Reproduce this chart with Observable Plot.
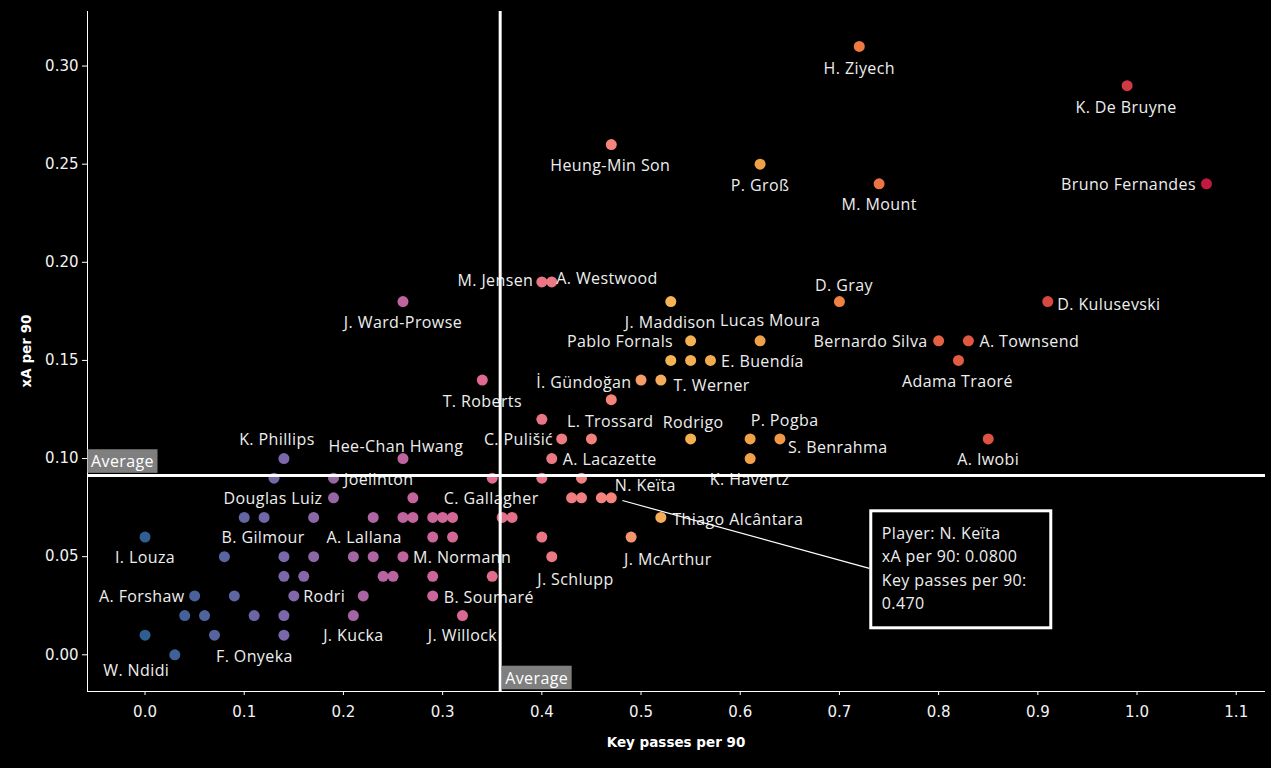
<!DOCTYPE html>
<html><head><meta charset="utf-8">
<script src="https://cdn.jsdelivr.net/npm/d3@7"></script>
<script src="https://cdn.jsdelivr.net/npm/@observablehq/plot@0.6"></script>
<style>
html,body{margin:0;padding:0;background:#000;}
#chart{width:1271px;height:768px;}
</style></head><body><div id="chart"></div>
<script>
// ---- data ----
const names = [
  "H. Ziyech","K. De Bruyne","Heung-Min Son","P. Groß","M. Mount","Bruno Fernandes",
  "M. Jensen","A. Westwood","J. Ward-Prowse","J. Maddison","D. Gray","D. Kulusevski",
  "Pablo Fornals","Lucas Moura","Bernardo Silva","A. Townsend","","","E. Buendía","Adama Traoré",
  "T. Roberts","İ. Gündoğan","T. Werner","L. Trossard","",
  "C. Pulišić","","Rodrigo","P. Pogba","S. Benrahma","A. Iwobi",
  "K. Phillips","Hee-Chan Hwang","A. Lacazette","K. Havertz",
  "","Joelinton","C. Gallagher","","",
  "Douglas Luiz","","","","","N. Keïta",
  "","B. Gilmour","","A. Lallana","","","","","","","","Thiago Alcântara",
  "I. Louza","","","","J. McArthur",
  "","","","","","M. Normann","J. Schlupp",
  "","","","","","",
  "A. Forshaw","","Rodri","","B. Soumaré",
  "","","","","J. Kucka","J. Willock",
  "","F. Onyeka","",
  "W. Ndidi"
];
const keyPasses = [
  0.72,0.99,0.47,0.62,0.74,1.07,
  0.40,0.41,0.26,0.53,0.70,0.91,
  0.55,0.62,0.80,0.83,0.53,0.55,0.57,0.82,
  0.34,0.50,0.52,0.47,0.40,
  0.42,0.45,0.55,0.61,0.64,0.85,
  0.14,0.26,0.41,0.61,
  0.13,0.19,0.35,0.40,0.44,
  0.19,0.27,0.43,0.44,0.46,0.47,
  0.10,0.12,0.17,0.23,0.26,0.27,0.29,0.30,0.31,0.36,0.37,0.52,
  0.00,0.29,0.31,0.40,0.49,
  0.08,0.14,0.17,0.21,0.23,0.26,0.41,
  0.14,0.16,0.24,0.25,0.29,0.35,
  0.05,0.09,0.15,0.22,0.29,
  0.04,0.06,0.11,0.14,0.21,0.32,
  0.00,0.07,0.14,
  0.03
];
const xAPer90 = [
  0.31,0.29,0.26,0.25,0.24,0.24,
  0.19,0.19,0.18,0.18,0.18,0.18,
  0.16,0.16,0.16,0.16,0.15,0.15,0.15,0.15,
  0.14,0.14,0.14,0.13,0.12,
  0.11,0.11,0.11,0.11,0.11,0.11,
  0.10,0.10,0.10,0.10,
  0.09,0.09,0.09,0.09,0.09,
  0.08,0.08,0.08,0.08,0.08,0.08,
  0.07,0.07,0.07,0.07,0.07,0.07,0.07,0.07,0.07,0.07,0.07,0.07,
  0.06,0.06,0.06,0.06,0.06,
  0.05,0.05,0.05,0.05,0.05,0.05,0.05,
  0.04,0.04,0.04,0.04,0.04,0.04,
  0.03,0.03,0.03,0.03,0.03,
  0.02,0.02,0.02,0.02,0.02,0.02,
  0.01,0.01,0.01,
  0.00
];
const xTicks = [0,0.1,0.2,0.3,0.4,0.5,0.6,0.7,0.8,0.9,1.0,1.1];
const yTicks = [0,0.05,0.10,0.15,0.20,0.25,0.30];
const averageKeyPasses = 0.358;
const averageXA = 0.0914;
const highlightedPlayer = "N. Keïta";
const xTitle = "Key passes per 90";
const yTitle = "xA per 90";
const averageText = "Average";
// colour ramp (key passes -> colour)
const colorStops = [0, 0.14, 0.26, 0.34, 0.47, 0.53, 0.62, 0.72, 0.85, 0.99, 1.07];
const colorRange = ["#2f5f92","#7a68aa","#c064a0","#e06a8f","#f5857a","#f6b455","#f0a048","#ee7a42","#de5242","#cf3a45","#c31a40"];

// ---- label placement (layout only): [dx, dy, anchor] ----
const labelPlacement = {
  "H. Ziyech":[0,22,"middle"], "K. De Bruyne":[-1,22,"middle"], "Heung-Min Son":[-1,21.5,"middle"],
  "P. Groß":[0,21.5,"middle"], "M. Mount":[0,21.5,"middle"], "Bruno Fernandes":[-10.5,1,"end"],
  "M. Jensen":[-8.5,-1,"end"], "A. Westwood":[4.5,-3,"start"], "J. Ward-Prowse":[0,21.5,"middle"],
  "J. Maddison":[-0.5,21,"middle"], "D. Gray":[4.5,-15.5,"middle"], "D. Kulusevski":[9.5,3.5,"start"],
  "Pablo Fornals":[-17.5,1,"end"], "Lucas Moura":[-40,-20,"start"], "Bernardo Silva":[-11,1,"end"],
  "A. Townsend":[11,1,"start"], "E. Buendía":[10.5,1,"start"], "Adama Traoré":[-1,21.5,"middle"],
  "T. Roberts":[0,22,"middle"], "İ. Gündoğan":[-9.5,2.5,"end"], "T. Werner":[12.5,5.5,"start"],
  "L. Trossard":[-1,22,"middle"], "C. Pulišić":[-8.5,1,"end"], "Rodrigo":[2.5,-16.5,"middle"],
  "P. Pogba":[0.5,-18,"start"], "S. Benrahma":[8,8.5,"start"], "A. Iwobi":[0,21,"middle"],
  "K. Phillips":[-7,-19,"middle"], "Hee-Chan Hwang":[-7,-12,"middle"], "A. Lacazette":[11,1,"start"],
  "K. Havertz":[-0.5,21.5,"middle"], "Joelinton":[10.5,1.5,"start"], "Douglas Luiz":[-11,1.5,"end"],
  "C. Gallagher":[-1,21,"middle"], "N. Keïta":[3.5,-11.5,"start"], "Thiago Alcântara":[11.5,2,"start"],
  "B. Gilmour":[-1,20.5,"middle"], "I. Louza":[0,21,"middle"], "A. Lallana":[-9,20.5,"middle"],
  "M. Normann":[10,1,"start"], "J. McArthur":[-7,22.5,"start"], "J. Schlupp":[-14.5,23.5,"start"],
  "A. Forshaw":[-10,1,"end"], "Rodri":[9.5,1,"start"], "B. Soumaré":[11,1.5,"start"],
  "J. Willock":[0,20.5,"middle"], "J. Kucka":[0,20.5,"middle"], "F. Onyeka":[1.5,22,"start"],
  "W. Ndidi":[-5.5,16.5,"end"]
};

const data = names.map((name, i) => ({name, kp: keyPasses[i], xa: xAPer90[i]}));
const xDomain = [-0.058, 1.1295];
const yDomain = [-0.0187, 0.3278];
const labelFont = "'Open Sans', 'Noto Sans', sans-serif";
const labelNames = new Set(Object.keys(labelPlacement));

const labelMarks = data.filter(d => d.name && labelPlacement[d.name]).map(d => {
  const [dx, dy, anchor] = labelPlacement[d.name];
  return Plot.text([d], {x: "kp", y: "xa", text: "name", dx, dy, textAnchor: anchor,
    fill: "#eeeeee", fontSize: 16, fontFamily: labelFont});
});

const marginLeft = 87, marginTop = 11, marginRight = 6, marginBottom = 77;
const W = 1271, H = 768;

const chart = Plot.plot({
  width: W, height: H,
  marginLeft, marginTop, marginRight, marginBottom,
  style: {background: "#000", color: "#fff", fontFamily: "'DejaVu Sans', sans-serif", fontSize: "15px"},
  x: {domain: xDomain},
  y: {domain: yDomain},
  color: {type: "linear", domain: colorStops, range: colorRange},
  marks: [
    Plot.ruleX([xDomain[0]], {stroke: "#fff", strokeWidth: 1}),
    Plot.ruleY([yDomain[0]], {stroke: "#fff", strokeWidth: 1}),
    Plot.axisX({ticks: xTicks, tickFormat: ".1f", tickSize: 4, tickPadding: 11, label: null,
      fontSize: 15, fill: "#f2f2f2", stroke: "#fff"}),
    Plot.axisY({ticks: yTicks, tickFormat: ".2f", tickSize: 5, tickPadding: 4, label: null,
      fontSize: 15, fill: "#f2f2f2", stroke: "#fff"}),
    Plot.dot(data, {x: "kp", y: "xa", r: 5.5, fill: "kp"}),
    ...labelMarks,
    Plot.ruleX([averageKeyPasses], {stroke: "#fff", strokeWidth: 3}),
    Plot.ruleY([averageXA], {stroke: "#fff", strokeWidth: 3}),
    Plot.text([averageXA], {y: d => d, text: () => averageText, frameAnchor: "left", dx: 3.5, dy: -13.5,
      textAnchor: "start", fill: "#fff", fontSize: 16, fontFamily: labelFont}),
    Plot.text([averageKeyPasses], {x: d => d, text: () => averageText, frameAnchor: "bottom", dx: 5, dy: -8,
      textAnchor: "start", fill: "#fff", fontSize: 16, fontFamily: labelFont})
  ]
});
document.getElementById("chart").append(chart);

const svg = d3.select(chart);
svg.selectAll("text").filter(function() { return labelNames.has(this.textContent); })
  .style("letter-spacing", "0.4px");
svg.selectAll("text").filter(function() { return this.textContent === averageText; })
  .style("letter-spacing", "0.4px")
  .each(function() {
    const b = this.getBBox();
    const r = document.createElementNS("http://www.w3.org/2000/svg", "rect");
    r.setAttribute("x", b.x - 3.5);
    r.setAttribute("y", b.y + b.height / 2 - 11.8);
    r.setAttribute("width", b.width + 7);
    r.setAttribute("height", 23.6);
    r.setAttribute("fill", "#7f7f7f");
    const tr = this.getAttribute("transform");
    if (tr) r.setAttribute("transform", tr);
    this.parentNode.insertBefore(r, this);
  });

// axis titles
svg.append("text")
  .attr("x", marginLeft + (W - marginLeft - marginRight) / 2).attr("y", H - marginBottom + 51)
  .attr("dy", "0.35em").attr("text-anchor", "middle")
  .attr("font-family", "'DejaVu Sans', sans-serif").attr("font-weight", "bold").attr("font-size", 13.5)
  .attr("fill", "#fff").text(xTitle);
svg.append("text")
  .attr("transform", `translate(26,${marginTop + (H - marginTop - marginBottom) / 2}) rotate(-90)`)
  .attr("dy", "0.35em").attr("text-anchor", "middle")
  .attr("font-family", "'DejaVu Sans', sans-serif").attr("font-weight", "bold").attr("font-size", 13.5)
  .attr("fill", "#fff").text(yTitle);

// tooltip annotation for the highlighted player, anchored through the chart's scales
const hp = data.find(d => d.name === highlightedPlayer);
const px = chart.scale("x").apply(hp.kp), py = chart.scale("y").apply(hp.xa);
const tip = svg.append("g").attr("font-family", labelFont).attr("font-size", 16).attr("text-anchor", "start");
tip.append("line")
  .attr("x1", px + 11.6).attr("y1", py + 3.2)
  .attr("x2", px + 258.6).attr("y2", py + 71)
  .attr("stroke", "#fff").attr("stroke-width", 1.2);
tip.append("rect")
  .attr("x", px + 260).attr("y", py + 13.5).attr("width", 180).attr("height", 117)
  .attr("fill", "#000").attr("stroke", "#fff").attr("stroke-width", 3);
const tipLines = [
  "Player: " + hp.name,
  "xA per 90: " + d3.format(".4f")(hp.xa),
  "Key passes per 90:",
  d3.format(".3f")(hp.kp)
];
tip.selectAll("text").data(tipLines).join("text")
  .attr("x", px + 271).attr("y", (d, i) => py + 36 + i * 23.3)
  .attr("dy", "0.35em").attr("text-anchor", "start").attr("fill", "#eeeeee").style("letter-spacing", "0.4px")
  .text(d => d);
</script>
</body></html>
